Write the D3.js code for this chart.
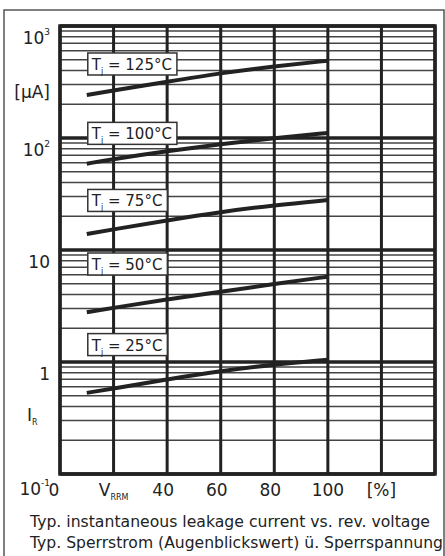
<!DOCTYPE html>
<html>
<head>
<meta charset="utf-8">
<script src="https://cdn.jsdelivr.net/npm/d3@7"></script>
<style>
  body { margin: 0; background: #fff; }
  text { font-family: "DejaVu Sans", sans-serif; fill: #222; }
</style>
</head>
<body>
<div id="chart"></div>
<script>
// reverse voltage in % of V_RRM
var vr = [10, 20, 40, 60, 80, 100];
// leakage current in µA per junction temperature
var temps = ["125", "100", "75", "50", "25"];
var ir125 = [242, 266, 318, 380, 437, 490];
var ir100 = [59, 65, 76.5, 88, 100, 111];
var ir75  = [13.9, 15.3, 18.4, 21.9, 25.1, 27.9];
var ir50  = [2.78, 3.05, 3.63, 4.24, 4.97, 5.78];
var ir25  = [0.53, 0.58, 0.70, 0.83, 0.95, 1.05];
// where the temperature labels sit (µA)
var labelAt = [458, 110, 27.7, 7.5, 1.43];

var xTicks = [0, 20, 40, 60, 80, 100, 120];
var xTickLabels = ["0", "V|RRM", "40", "60", "80", "100", "[%]"];
var yTicks = [0.1, 1, 10, 100, 1000];
var yTickLabels = ["10^-1", "1", "10", "10^2", "10^3"];

var captions = ["Typ. instantaneous leakage current vs. rev. voltage",
                "Typ. Sperrstrom (Augenblickswert) ü. Sperrspannung"];

var W = 445, H = 556;
var margin = {top: 26, right: 10, bottom: 82, left: 60};

var svg = d3.select("#chart").append("svg")
    .attr("width", W).attr("height", H);

// outer frame
svg.append("rect")
    .attr("x", 4).attr("y", 10).attr("width", 440).attr("height", 560)
    .style("fill", "none").style("stroke", "#555").style("stroke-width", 1.5);

var x = d3.scaleLinear().domain([0, 140]).range([margin.left, W - margin.right]);
var y = d3.scaleLog().domain([0.1, 1000]).range([H - margin.bottom, margin.top]);

// minor horizontal grid
var minor = y.ticks().filter(function(d) { return yTicks.indexOf(d) < 0; });
svg.append("g").selectAll("line").data(minor).enter().append("line")
    .attr("x1", x(0)).attr("x2", x(140))
    .attr("y1", function(d) { return y(d); }).attr("y2", function(d) { return y(d); })
    .style("stroke", "#444").style("stroke-width", 1.5);

// decade lines
svg.append("g").selectAll("line").data(yTicks).enter().append("line")
    .attr("x1", x(0)).attr("x2", x(140))
    .attr("y1", function(d) { return y(d); }).attr("y2", function(d) { return y(d); })
    .style("stroke", "#222").style("stroke-width", 3.5);

// vertical grid
svg.append("g").selectAll("line").data(d3.range(0, 141, 20)).enter().append("line")
    .attr("x1", function(d) { return x(d); }).attr("x2", function(d) { return x(d); })
    .attr("y1", y(1000)).attr("y2", y(0.1))
    .style("stroke", "#222").style("stroke-width", 3);

// curves
var series = [ir125, ir100, ir75, ir50, ir25];
var line = d3.line()
    .x(function(d, i) { return x(vr[i]); })
    .y(function(d) { return y(d); })
    .curve(d3.curveBasis);
svg.append("g").selectAll("path").data(series).enter().append("path")
    .attr("d", line)
    .style("fill", "none").style("stroke", "#222").style("stroke-width", 4);

// temperature labels in boxes
temps.forEach(function(t, i) {
  var g = svg.append("g");
  var box = g.append("rect");
  var tx = g.append("text")
      .attr("x", x(10) + 5).attr("y", y(labelAt[i]) + 6)
      .style("font-size", "15px");
  tx.append("tspan").text("T");
  tx.append("tspan").text("j").attr("dy", 4).style("font-size", "8px").style("fill", "#222");
  tx.append("tspan").text(" = " + t + "°C").attr("dy", -4);
  var bb = tx.node().getBBox();
  box.attr("x", x(10) + 1).attr("y", y(labelAt[i]) - 11)
      .attr("width", bb.width + 8).attr("height", 22)
      .style("fill", "#fff").style("stroke", "#333").style("stroke-width", 1.5);
});

// plot border
svg.append("rect")
    .attr("x", x(0)).attr("y", y(1000))
    .attr("width", x(140) - x(0)).attr("height", y(0.1) - y(1000))
    .style("fill", "none").style("stroke", "#222").style("stroke-width", 3.5);

// y tick labels
yTicks.forEach(function(d, i) {
  var parts = yTickLabels[i].split("^");
  var t = svg.append("text")
      .attr("x", 50).attr("y", i === 0 ? 495 : y(d) + 18)
      .attr("text-anchor", "end")
      .style("font-size", "17px");
  t.append("tspan").text(parts[0]);
  if (parts[1]) {
    t.append("tspan").text(parts[1]).attr("dy", -9).style("font-size", "9px");
  }
});

// y unit and name
svg.append("text").attr("x", 50).attr("y", 98).attr("text-anchor", "end")
    .style("font-size", "17px").text("[µA]");
var ir = svg.append("text").attr("x", 27).attr("y", 421).style("font-size", "17px");
ir.append("tspan").text("I");
ir.append("tspan").text("R").attr("dy", 4).style("font-size", "8px");

// x tick labels
xTicks.forEach(function(d, i) {
  var parts = xTickLabels[i].split("|");
  var t = svg.append("text")
      .attr("x", i === 0 ? 54 : x(d) - (i >= 2 && i <= 4 ? 4 : 0))
      .attr("y", 496)
      .attr("text-anchor", "middle")
      .style("font-size", "17px");
  t.append("tspan").text(parts[0]);
  if (parts[1]) {
    t.append("tspan").text(parts[1]).attr("dy", 4).style("font-size", "8px");
  }
});

// captions
captions.forEach(function(c, i) {
  svg.append("text")
      .attr("x", 30).attr("y", 527 + i * 21)
      .attr("textLength", i === 0 ? 400 : 413)
      .attr("lengthAdjust", "spacingAndGlyphs")
      .style("font-size", "15px")
      .text(c);
});
</script>
</body>
</html>
